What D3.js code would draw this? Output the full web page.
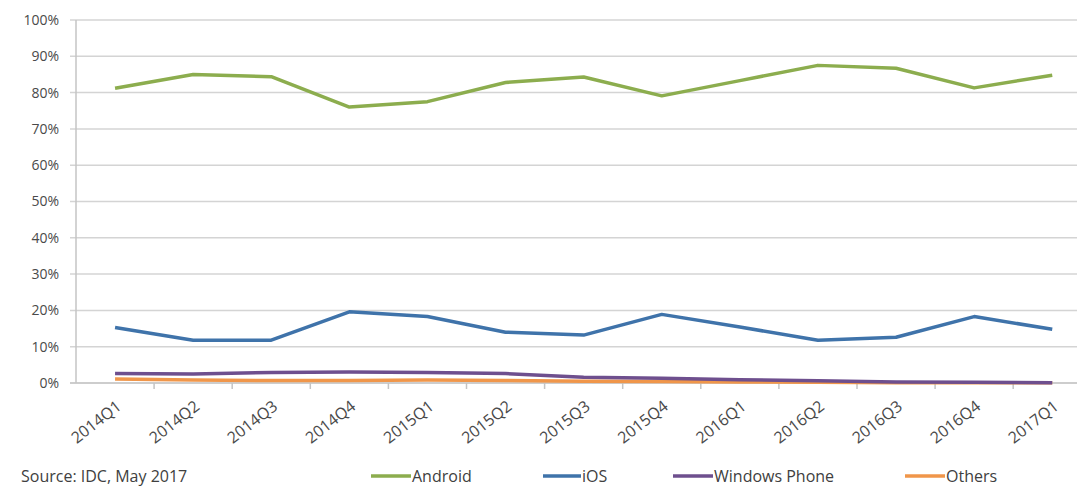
<!DOCTYPE html>
<html>
<head>
<meta charset="utf-8">
<script src="https://cdn.jsdelivr.net/npm/d3@7"></script>
<style>
  body { margin: 0; background: #fff; }
  svg { display: block; font-family: "Open Sans", "Liberation Sans", sans-serif; }
  .ylab { fill: #4a4a4a; font-size: 14px; }
  .xlab { fill: #4a4a4a; font-size: 16px; }
  .legend text { fill: #404040; font-size: 16px; }
</style>
</head>
<body>
<svg id="chart" width="1081" height="486"></svg>
<script>
const quarters = ['2014Q1', '2014Q2', '2014Q3', '2014Q4', '2015Q1', '2015Q2', '2015Q3',
    '2015Q4', '2016Q1', '2016Q2', '2016Q3', '2016Q4', '2017Q1'];
const android = [81.2, 85.0, 84.4, 76.0, 77.5, 82.8, 84.3, 79.1, 83.3, 87.5, 86.7, 81.3, 84.8];
const ios = [15.3, 11.8, 11.8, 19.6, 18.3, 14.0, 13.2, 18.9, 15.4, 11.8, 12.6, 18.3, 14.8];
const windowsPhone = [2.6, 2.5, 2.9, 3.0, 2.9, 2.6, 1.6, 1.3, 0.9, 0.6, 0.3, 0.2, 0.1];
const others = [1.1, 0.8, 0.7, 0.7, 0.8, 0.7, 0.5, 0.4, 0.3, 0.2, 0.1, 0.1, 0.1];
const yTicks = [0, 10, 20, 30, 40, 50, 60, 70, 80, 90, 100];

const series = [
    { name: 'Android', values: android, color: '#8cad4e' },
    { name: 'iOS', values: ios, color: '#3f73aa' },
    { name: 'Windows Phone', values: windowsPhone, color: '#6e4f8e' },
    { name: 'Others', values: others, color: '#f0964a' },
];

const svg = d3.select('#chart');
const plotLeft = 76, plotTop = 20, plotBottom = 383;
const step = 78.1;

const x = d3.scaleBand().domain(quarters).range([plotLeft, plotLeft + step * quarters.length]);
const y = d3.scaleLinear().domain([0, 100]).range([plotBottom, plotTop]);
const cx = q => x(q) + x.bandwidth() / 2;

// gridlines
svg.append('g')
    .selectAll('line')
    .data(yTicks)
    .join('line')
    .attr('x1', plotLeft - 6)
    .attr('x2', 1077)
    .attr('y1', d => y(d))
    .attr('y2', d => y(d))
    .attr('stroke', d => d === 0 ? '#bdbdbd' : '#d4d4d4')
    .attr('stroke-width', 1.5);

// y axis line
svg.append('line')
    .attr('x1', plotLeft).attr('x2', plotLeft)
    .attr('y1', plotTop).attr('y2', plotBottom)
    .attr('stroke', '#c4c4c4').attr('stroke-width', 1.5);

svg.append('g')
    .selectAll('text')
    .data(yTicks)
    .join('text')
    .attr('class', 'ylab')
    .attr('x', 59)
    .attr('y', d => y(d))
    .attr('dy', '0.35em')
    .attr('text-anchor', 'end')
    .text(d => d + '%');

// x tick marks at band boundaries
svg.append('g')
    .selectAll('line')
    .data(quarters.slice(1))
    .join('line')
    .attr('x1', d => x(d)).attr('x2', d => x(d))
    .attr('y1', plotBottom).attr('y2', plotBottom + 6)
    .attr('stroke', '#c4c4c4').attr('stroke-width', 1.5);

svg.append('g')
    .selectAll('text')
    .data(quarters)
    .join('text')
    .attr('class', 'xlab')
    .attr('text-anchor', 'end')
    .attr('transform', d => `translate(${cx(d) + 4},${plotBottom + 21}) rotate(-38)`)
    .attr('dy', '0.35em')
    .text(d => d);

// lines
const line = d3.line()
    .x((d, i) => cx(quarters[i]))
    .y(d => y(d));

svg.append('g')
    .selectAll('path')
    .data(series.slice().reverse())
    .join('path')
    .attr('d', d => line(d.values))
    .attr('fill', 'none')
    .attr('stroke', d => d.color)
    .attr('stroke-width', 3.5)
    .attr('stroke-linejoin', 'round');

// source
svg.append('text')
    .attr('x', 21).attr('y', 482)
    .attr('fill', '#404040')
    .style('font-size', '16px')
    .text('Source: IDC, May 2017');

// legend
const legendX = [371, 543, 673, 905];
const legend = svg.append('g').attr('class', 'legend')
    .selectAll('g')
    .data(series)
    .join('g')
    .attr('transform', (d, i) => `translate(${legendX[i]},476)`);

legend.append('line')
    .attr('x1', 0).attr('x2', d => d.name === 'iOS' ? 38 : 40)
    .attr('stroke', d => d.color)
    .attr('stroke-width', 3.5);

legend.append('text')
    .attr('x', d => d.name === 'iOS' ? 39 : 41)
    .attr('dy', '0.35em')
    .text(d => d.name);
</script>
</body>
</html>
